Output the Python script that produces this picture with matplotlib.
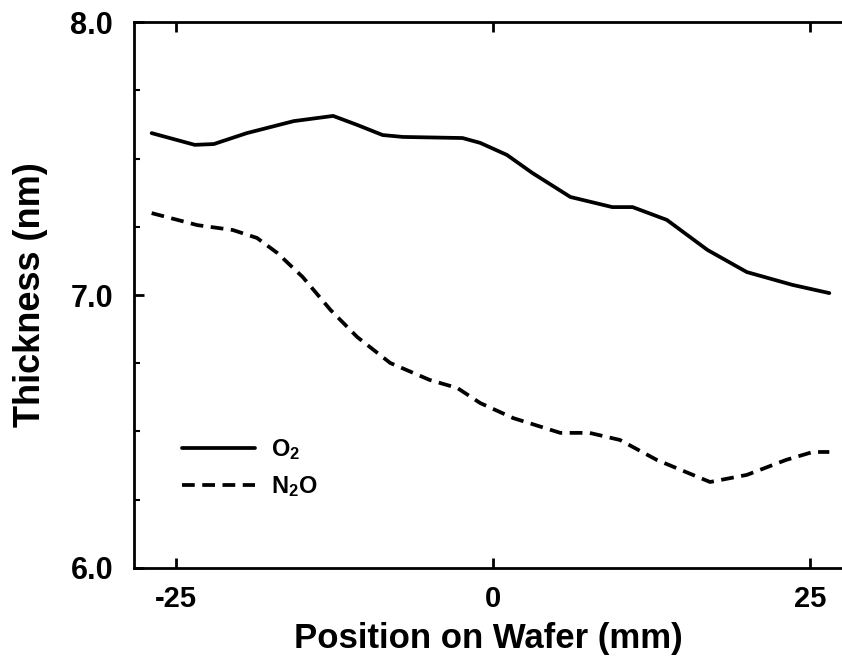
import matplotlib
matplotlib.use("Agg")
import matplotlib.pyplot as plt
from matplotlib.ticker import MultipleLocator

plt.rcParams["font.family"] = ["Liberation Sans", "DejaVu Sans"]
plt.rcParams["mathtext.default"] = "regular"

# O2-grown film, thickness across the wafer
o2_pos = [-26.9, -23.5, -22.0, -19.4, -15.7, -12.6, -10.7, -8.7, -7.1, -2.4, -1.0,
          1.1, 3.1, 6.1, 9.4, 11.0, 13.7, 16.9, 20.0, 23.6, 26.5]
o2_thk = [7.593, 7.550, 7.553, 7.593, 7.637, 7.656, 7.623, 7.586, 7.579, 7.575, 7.557,
          7.513, 7.447, 7.359, 7.322, 7.322, 7.275, 7.165, 7.084, 7.037, 7.007]

# N2O-grown film
n2o_pos = [-26.9, -23.3, -20.5, -18.6, -17.0, -15.0, -12.8, -10.7, -8.1, -5.0, -2.8,
           -1.0, 1.6, 5.3, 7.6, 10.0, 12.9, 17.1, 20.0, 23.1, 25.2, 26.5]
n2o_thk = [7.300, 7.256, 7.238, 7.209, 7.154, 7.066, 6.945, 6.846, 6.751, 6.689, 6.659,
           6.604, 6.549, 6.495, 6.495, 6.469, 6.396, 6.315, 6.341, 6.396, 6.425, 6.425]

x_ticks = [-25, 0, 25]
y_ticks = [6.0, 7.0, 8.0]

fig = plt.figure(figsize=(8.42, 6.63), dpi=100)
ax = fig.add_axes([0.159, 0.1433, 0.841, 0.8235])

ax.plot(o2_pos, o2_thk, color="black", lw=2.7, solid_capstyle="round", label="O$_2$")
ax.plot(n2o_pos, n2o_thk, color="black", lw=2.7, dashes=(3.4, 2.0), label="N$_2$O")

ax.set_xlim(-28.3, 27.5)
ax.set_ylim(6.0, 8.0)
ax.set_xticks(x_ticks)
ax.set_xticklabels([str(v) for v in x_ticks])
ax.set_yticks(y_ticks)
ax.set_yticklabels([f"{v:.1f}" for v in y_ticks])
ax.yaxis.set_minor_locator(MultipleLocator(0.25))

ax.spines["right"].set_visible(False)
for s in ("left", "bottom", "top"):
    ax.spines[s].set_linewidth(2.0)
ax.tick_params(axis="x", which="major", direction="in", top=True, length=7, width=2,
               labelsize=21, pad=12)
ax.tick_params(axis="y", which="major", direction="in", right=False, length=7, width=2,
               labelsize=22, pad=15)
ax.tick_params(axis="y", which="minor", direction="in", length=4, width=1.5)
for lab in ax.get_xticklabels() + ax.get_yticklabels():
    lab.set_fontweight("bold")

ax.set_xlabel("Position on Wafer (mm)", fontsize=25, fontweight="bold", labelpad=7)
ax.set_ylabel("Thickness (nm)", fontsize=26, fontweight="bold", labelpad=16)

leg = ax.legend(loc="lower left", bbox_to_anchor=(0.038, 0.088), frameon=False,
                prop={"size": 17, "weight": "bold"}, handlelength=3.1,
                handletextpad=0.65, labelspacing=0.5)

fig.savefig("out.png", dpi=100, facecolor="white")
